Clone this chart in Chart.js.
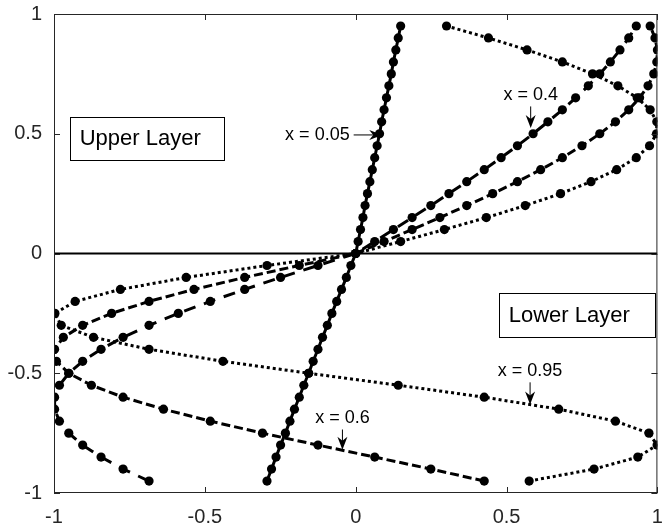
<!DOCTYPE html>
<html>
<head>
<meta charset="utf-8">
<script src="https://cdn.jsdelivr.net/npm/chart.js@4"></script>
<style>
  html, body { margin: 0; padding: 0; background: #fff; }
  #wrap { width: 662px; height: 528px; }
</style>
</head>
<body>
<div id="wrap"><canvas id="chart" width="662" height="528"></canvas></div>
<script>
// depth coordinate, shared by all four profiles
const yLevels = [-0.95, -0.9, -0.85, -0.8, -0.75, -0.7, -0.65, -0.6, -0.55, -0.5,
  -0.45, -0.4, -0.35, -0.3, -0.25, -0.2, -0.15, -0.1, -0.05, 0,
  0.05, 0.1, 0.15, 0.2, 0.25, 0.3, 0.35, 0.4, 0.45, 0.5,
  0.55, 0.6, 0.65, 0.7, 0.75, 0.8, 0.85, 0.9, 0.95];

// x = 0.05 (solid)
const prof005 = [-0.294, -0.279, -0.264, -0.249, -0.233, -0.218, -0.203, -0.187, -0.172, -0.156,
  -0.141, -0.125, -0.110, -0.094, -0.079, -0.063, -0.047, -0.031, -0.016, 0,
  0.008, 0.016, 0.024, 0.031, 0.039, 0.047, 0.055, 0.063, 0.071, 0.079,
  0.086, 0.094, 0.102, 0.110, 0.118, 0.125, 0.133, 0.141, 0.149];

// x = 0.4
const prof04 = [-0.685, -0.771, -0.844, -0.905, -0.951, -0.982, -0.998, -0.998, -0.982, -0.951,
  -0.905, -0.844, -0.771, -0.685, -0.588, -0.482, -0.368, -0.249, -0.125, 0,
  0.063, 0.125, 0.187, 0.249, 0.309, 0.368, 0.426, 0.482, 0.536, 0.588,
  0.637, 0.685, 0.729, 0.771, 0.809, 0.844, 0.876, 0.905, 0.930];

// x = 0.6
const prof06 = [0.426, 0.249, 0.063, -0.125, -0.309, -0.482, -0.637, -0.771, -0.876, -0.951,
  -0.992, -0.998, -0.969, -0.905, -0.809, -0.685, -0.536, -0.368, -0.187, 0,
  0.094, 0.187, 0.279, 0.368, 0.454, 0.536, 0.613, 0.685, 0.750, 0.809,
  0.861, 0.905, 0.941, 0.969, 0.988, 0.998, 1.0, 0.992, 0.976];

// x = 0.95
const prof095 = [0.575, 0.790, 0.935, 0.999, 0.972, 0.861, 0.673, 0.426, 0.141, -0.156,
  -0.440, -0.685, -0.869, -0.976, -0.997, -0.930, -0.780, -0.562, -0.294, 0,
  0.149, 0.294, 0.433, 0.562, 0.679, 0.780, 0.865, 0.930, 0.974, 0.997,
  0.998, 0.976, 0.933, 0.869, 0.785, 0.685, 0.568, 0.440, 0.301];

const zeroLineX = [-1, 1];
const axisTicks = [-1, -0.5, 0, 0.5, 1];
const tickText = ['-1', '-0.5', '0', '0.5', '1'];

const FONT = '"Liberation Sans", Arial, Helvetica, sans-serif';
const AXIS_GREY = '#262626';

const toPoints = xs => xs.map((x, i) => ({ x: x, y: yLevels[i] }));

// labels with arrows, placed in data units
const notes = [
  { text: 'x = 0.05', tip: [0.088, 0.495], dir: 'right', tx: -0.02, ty: 0.495 },
  { text: 'x = 0.4', tip: [0.58, 0.524], dir: 'down', tx: 0.58, ty: 0.66 },
  { text: 'x = 0.6', tip: [-0.044, -0.819], dir: 'down', tx: -0.044, ty: -0.689 },
  { text: 'x = 0.95', tip: [0.578, -0.631], dir: 'down', tx: 0.578, ty: -0.492 }
];
const boxes = [
  { text: 'Upper Layer', x0: -0.948, x1: -0.436, y0: 0.570, y1: 0.391 },
  { text: 'Lower Layer', x0: 0.474, x1: 0.992, y0: -0.164, y1: -0.348 }
];

const framePlugin = {
  id: 'frame',
  afterDatasetsDraw(chart) {
    const { ctx, chartArea: a, scales: { x, y } } = chart;
    ctx.save();
    ctx.strokeStyle = AXIS_GREY;
    ctx.lineWidth = 1;
    ctx.strokeRect(a.left + 0.5, a.top + 0.5, a.right - a.left - 1, a.bottom - a.top - 1);
    ctx.beginPath();
    axisTicks.forEach(v => {
      const px = Math.round(x.getPixelForValue(v)) + 0.5;
      ctx.moveTo(px, a.bottom); ctx.lineTo(px, a.bottom - 6);
      ctx.moveTo(px, a.top); ctx.lineTo(px, a.top + 6);
      const py = Math.round(y.getPixelForValue(v)) + 0.5;
      ctx.moveTo(a.left, py); ctx.lineTo(a.left + 6, py);
      ctx.moveTo(a.right, py); ctx.lineTo(a.right - 6, py);
    });
    ctx.stroke();

    // text boxes
    ctx.strokeStyle = '#000';
    ctx.font = '22px ' + FONT;
    ctx.textBaseline = 'middle';
    ctx.textAlign = 'left';
    boxes.forEach(b => {
      const l = x.getPixelForValue(b.x0), r = x.getPixelForValue(b.x1);
      const t = y.getPixelForValue(b.y0), bt = y.getPixelForValue(b.y1);
      ctx.fillStyle = '#fff';
      ctx.fillRect(l, t, r - l, bt - t);
      ctx.strokeRect(Math.round(l) + 0.5, Math.round(t) + 0.5, Math.round(r - l), Math.round(bt - t));
      ctx.fillStyle = '#000';
      ctx.fillText(b.text, l + 10, (t + bt) / 2 + 1);
    });

    // arrow annotations
    ctx.fillStyle = '#000';
    ctx.font = '18px ' + FONT;
    notes.forEach(n => {
      const tx = x.getPixelForValue(n.tip[0]), ty = y.getPixelForValue(n.tip[1]);
      const lx = x.getPixelForValue(n.tx), ly = y.getPixelForValue(n.ty);
      ctx.lineWidth = 1;
      ctx.beginPath();
      if (n.dir === 'right') {
        ctx.textAlign = 'right';
        ctx.fillText(n.text, lx, ly);
        ctx.moveTo(lx + 4, ty); ctx.lineTo(tx - 2, ty);
        ctx.stroke();
        ctx.beginPath();
        ctx.moveTo(tx, ty); ctx.lineTo(tx - 13, ty - 5); ctx.lineTo(tx - 9, ty); ctx.lineTo(tx - 13, ty + 5);
        ctx.closePath(); ctx.fill();
      } else {
        ctx.textAlign = 'center';
        ctx.fillText(n.text, lx, ly);
        ctx.moveTo(tx, ly + 11); ctx.lineTo(tx, ty - 2);
        ctx.stroke();
        ctx.beginPath();
        ctx.moveTo(tx, ty); ctx.lineTo(tx - 5, ty - 13); ctx.lineTo(tx, ty - 9); ctx.lineTo(tx + 5, ty - 13);
        ctx.closePath(); ctx.fill();
      }
    });
    ctx.restore();
  }
};

const lineSet = (data, dash) => ({
  data: data,
  showLine: true,
  borderColor: '#000',
  borderWidth: 3,
  borderDash: dash,
  pointRadius: 4.6,
  pointBorderWidth: 0,
  pointBackgroundColor: '#000',
  tension: 0
});

const tickLabel = v => tickText[axisTicks.indexOf(v)] ?? String(v);

const chart = new Chart(document.getElementById('chart').getContext('2d'), {
  type: 'scatter',
  data: {
    datasets: [
      { data: zeroLineX.map(v => ({ x: v, y: 0 })), showLine: true, borderColor: '#000',
        borderWidth: 2, pointRadius: 0 },
      lineSet(toPoints(prof095), [3, 3]),
      lineSet(toPoints(prof06), [9, 4]),
      lineSet(toPoints(prof04), [12, 9]),
      lineSet(toPoints(prof005), [])
    ]
  },
  options: {
    responsive: false,
    animation: false,
    layout: { padding: { top: 14, right: 1.5, left: 0, bottom: 0 } },
    plugins: { legend: { display: false }, tooltip: { enabled: false } },
    scales: {
      x: {
        type: 'linear', min: -1, max: 1,
        afterBuildTicks: s => { s.ticks = axisTicks.map(v => ({ value: v })); },
        afterFit: s => { s.height = 35; s.paddingLeft = 0; s.paddingRight = 0; },
        grid: { display: false, drawTicks: false },
        border: { display: false },
        ticks: { color: AXIS_GREY, font: { family: FONT, size: 20 }, padding: 12, maxRotation: 0,
                 autoSkip: false, callback: tickLabel }
      },
      y: {
        type: 'linear', min: -1, max: 1,
        afterBuildTicks: s => { s.ticks = axisTicks.map(v => ({ value: v })); },
        afterFit: s => { s.width = 54; s.paddingTop = 0; s.paddingBottom = 0; },
        grid: { display: false, drawTicks: false },
        border: { display: false },
        ticks: { color: AXIS_GREY, font: { family: FONT, size: 20 }, padding: 12, autoSkip: false,
                 callback: tickLabel }
      }
    }
  },
  plugins: [framePlugin]
});
</script>
</body>
</html>
